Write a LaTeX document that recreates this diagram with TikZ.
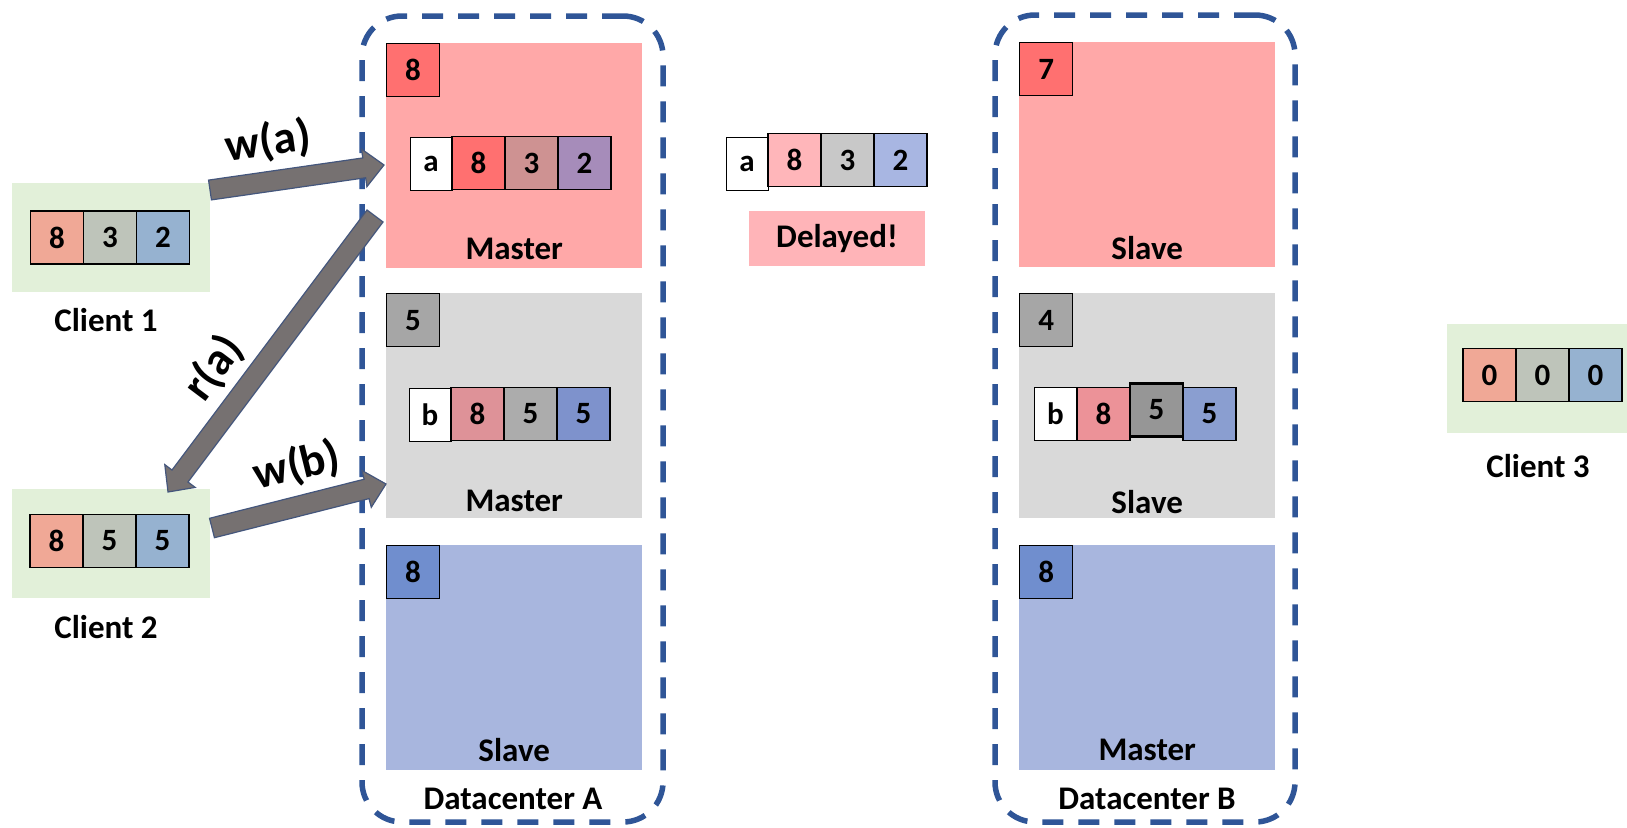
\documentclass[tikz,border=0pt]{standalone}
\usepackage{fontspec}
\setmainfont{Carlito}
\usetikzlibrary{calc}
\definecolor{pinkP}{RGB}{255,168,168}
\definecolor{grayP}{RGB}{217,217,217}
\definecolor{blueP}{RGB}{168,182,222}
\definecolor{greenC}{RGB}{226,240,217}
\definecolor{sqRed}{RGB}{255,112,112}
\definecolor{sqGray}{RGB}{166,166,166}
\definecolor{sqBlue}{RGB}{112,142,206}
\definecolor{clR}{RGB}{240,168,150}
\definecolor{clG}{RGB}{190,196,186}
\definecolor{clB}{RGB}{150,178,208}
\definecolor{mAa}{RGB}{255,112,112}
\definecolor{mAb}{RGB}{206,146,146}
\definecolor{mAc}{RGB}{166,140,186}
\definecolor{gAa}{RGB}{222,146,152}
\definecolor{gAb}{RGB}{172,172,172}
\definecolor{gAc}{RGB}{126,146,204}
\definecolor{gBa}{RGB}{236,146,152}
\definecolor{gBb}{RGB}{150,150,150}
\definecolor{gBc}{RGB}{138,158,208}
\definecolor{dla}{RGB}{255,182,186}
\definecolor{dlb}{RGB}{200,200,200}
\definecolor{dlc}{RGB}{168,182,226}
\definecolor{delayP}{RGB}{255,180,184}
\definecolor{dashB}{RGB}{47,85,151}
\definecolor{arrF}{RGB}{118,113,113}
\definecolor{arrD}{RGB}{68,86,124}
\newcommand\cellfnt{\fontsize{31}{36}\selectfont\bfseries}
\newcommand\lblfnt{\fontsize{33}{40}\selectfont\bfseries}
\newcommand\arrfnt{\fontsize{46}{54}\selectfont\bfseries}
\newcommand\blockarr[2]{%
  \coordinate (neck) at ($(#2)!20pt!(#1)$);
  \filldraw[arrF, draw=arrD, line width=1.2pt, line join=miter]
    ($(#1)!10pt!90:(#2)$) -- ($(neck)!10pt!90:(#2)$) -- ($(neck)!19pt!90:(#2)$)
    -- (#2) -- ($(neck)!19pt!-90:(#2)$) -- ($(neck)!10pt!-90:(#2)$)
    -- ($(#1)!10pt!-90:(#2)$) -- cycle;}
\tikzset{
  panel/.style={inner sep=0pt, minimum width=256pt, minimum height=225pt, anchor=north west},
  sq/.style={draw=black, line width=1.2pt, minimum size=53pt, inner sep=0pt, anchor=north west, font=\cellfnt},
  cell/.style={draw=black, line width=1.2pt, minimum width=53pt, minimum height=53pt, inner sep=0pt, font=\cellfnt},
  keycell/.style={draw=black, line width=0.9pt, fill=white, minimum width=42pt, minimum height=53pt, inner sep=0pt, font=\cellfnt},
  lbl/.style={font=\lblfnt, inner sep=0pt},
  arrlbl/.style={font=\arrfnt, inner sep=0pt},
  dcbox/.style={draw=dashB, line width=5.5pt, dash pattern=on 21pt off 15pt, rounded corners=40pt, inner sep=0pt},
  clbox/.style={fill=greenC, inner sep=0pt, minimum width=198pt, minimum height=109pt},
}
\begin{document}
\begin{tikzpicture}[x=1pt,y=-1pt]
\useasboundingbox (0,0) rectangle (1627,827);
\clip (0,0) rectangle (1627,827);
\fill[white] (0,0) rectangle (1627,827);

% Datacenter A
\node[dcbox, minimum width=301pt, minimum height=806pt] (dcA) at (512.5,419) {};
\node[panel, fill=pinkP] (Ap) at (386,43) {};
\node[panel, fill=grayP] (Ag) at (386,293) {};
\node[panel, fill=blueP] (Ab) at (386,545) {};
\node[sq, fill=sqRed] (Apsq) at (Ap.north west) {8};
\node[sq, fill=sqGray] (Agsq) at (Ag.north west) {5};
\node[sq, fill=sqBlue] (Absq) at (Ab.north west) {8};
\node[lbl] (ApL) at ($(Ap.south)+(0,-19)$) {Master};
\node[lbl] (AgL) at ($(Ag.south)+(0,-17)$) {Master};
\node[lbl] (AbL) at ($(Ab.south)+(0,-20)$) {Slave};
\node[lbl] (dcAL) at (513,799) {Datacenter A};
% record a in A master
\node[keycell] (Aka) at (431,164) {a};
\node[cell, fill=mAa] (Ak1) at (478.5,163) {8};
\node[cell, fill=mAb] (Ak2) at (531.5,163) {3};
\node[cell, fill=mAc] (Ak3) at (584.5,163) {2};
% record b in A gray
\node[keycell] (Akb) at (430,414.5) {b};
\node[cell, fill=gAa] (Ab1) at (477.5,414) {8};
\node[cell, fill=gAb] (Ab2) at (530.5,414) {5};
\node[cell, fill=gAc] (Ab3) at (583.5,414) {5};

% Datacenter B
\node[dcbox, minimum width=300pt, minimum height=807pt] (dcB) at (1145,418.5) {};
\node[panel, fill=pinkP] (Bp) at (1019,42) {};
\node[panel, fill=grayP] (Bg) at (1019,293) {};
\node[panel, fill=blueP] (Bb) at (1019,545) {};
\node[sq, fill=sqRed] (Bpsq) at (Bp.north west) {7};
\node[sq, fill=sqGray] (Bgsq) at (Bg.north west) {4};
\node[sq, fill=sqBlue] (Bbsq) at (Bb.north west) {8};
\node[lbl] (BpL) at ($(Bp.south)+(0,-19)$) {Slave};
\node[lbl] (BgL) at ($(Bg.south)+(0,-16)$) {Slave};
\node[lbl] (BbL) at ($(Bb.south)+(0,-20)$) {Master};
\node[lbl] (dcBL) at (1147,799) {Datacenter B};
\node[keycell] (Bkb) at (1055.5,414) {b};
\node[cell, fill=gBa] (Bb1) at (1103.5,414) {8};
\node[cell, fill=gBc] (Bb3) at (1209.5,414) {5};
\node[cell, fill=gBb, line width=2.4pt] (Bb2) at (1156.5,410) {5};

% Delayed message
\node[keycell] (Dka) at (747,163.5) {a};
\node[cell, fill=dla] (D1) at (794.5,160) {8};
\node[cell, fill=dlb] (D2) at (847.5,160) {3};
\node[cell, fill=dlc] (D3) at (900.5,160) {2};
\node[fill=delayP, minimum width=176pt, minimum height=55pt, inner sep=0pt, font=\lblfnt] (Dl) at (837,238.5) {Delayed!};

% Clients
\node[clbox] (C1) at (111,237.5) {};
\node[cell, fill=clR] (C1a) at (57,237.5) {8};
\node[cell, fill=clG] (C1b) at (110,237.5) {3};
\node[cell, fill=clB] (C1c) at (163,237.5) {2};
\node[lbl] (C1L) at (106,320) {Client 1};

\node[clbox] (C2) at (111,543.5) {};
\node[cell, fill=clR] (C2a) at (56.5,541) {8};
\node[cell, fill=clG] (C2b) at (109.5,541) {5};
\node[cell, fill=clB] (C2c) at (162.5,541) {5};
\node[lbl] (C2L) at (106,627) {Client 2};

\node[clbox, minimum width=196pt] (C3) at (1545,378.5) {};
\node[cell, fill=clR] (C3a) at (1489.5,375) {0};
\node[cell, fill=clG] (C3b) at (1542.5,375) {0};
\node[cell, fill=clB] (C3c) at (1595.5,375) {0};
\node[lbl] (C3L) at (1538,466) {Client 3};

% Arrows
\coordinate (waT) at (210,190);
\coordinate (waH) at (384,165);
\coordinate (raT) at (375,216);
\coordinate (raH) at (168,492);
\coordinate (wbT) at (212,528);
\coordinate (wbH) at (386,484);
\blockarr{waT}{waH}
\blockarr{raT}{raH}
\blockarr{wbT}{wbH}
\node[arrlbl, rotate=8] (waL) at (268,142) {w(a)};
\node[arrlbl, rotate=53] (raL) at (214,368) {r(a)};
\node[arrlbl, rotate=14] (wbL) at (297,466) {w(b)};
\end{tikzpicture}
\end{document}
